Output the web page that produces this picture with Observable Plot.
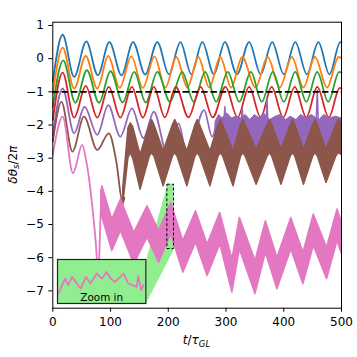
<!DOCTYPE html>
<html><head><meta charset="utf-8">
<script src="https://cdn.jsdelivr.net/npm/d3@7"></script>
<script src="https://cdn.jsdelivr.net/npm/@observablehq/plot@0.6"></script>
<style>
html,body{margin:0;padding:0;background:#fff;}
#wrap{position:relative;width:357px;height:357px;overflow:hidden;}
#inset{position:absolute;left:57.3px;top:259.3px;line-height:0;}
svg{display:block;}
</style></head><body><div id="wrap"><div id="inset"></div></div>
<script>
// ---- tick labels ----
const xTicks = [0, 100, 200, 300, 400, 500];
const yTicks = [-7, -6, -5, -4, -3, -2, -1, 0, 1];

// ---- smooth series: [t, value] ----
const blue = [[0,-0.7],[17,0.72],[37,-0.55],[58,0.52],[78,-0.5],[98,0.5],[119,-0.5],[139,0.5],[160,-0.48],[181,0.5],[201,-0.47],[221,0.5],[240,-0.47],[259,0.5],[279,-0.47],[298,0.5],[319,-0.47],[340,0.5],[360,-0.47],[380,0.5],[400,-0.47],[420,0.5],[440,-0.47],[460,0.5],[479,-0.47],[498,0.5],[500,0.49]];
const orange = [[0,-1.05],[17,0.33],[37,-0.9],[57,0.08],[77,-0.9],[96,0.08],[116,-0.88],[136,0.07],[156,-0.88],[176,0.06],[195,-0.87],[214,0.05],[233,-0.87],[252,0.05],[271,-0.87],[290,0.05],[309,-0.87],[328,0.05],[351,-0.87],[372,0.05],[393,-0.87],[414,0.05],[434,-0.87],[454,0.05],[475,-0.87],[495,0.05],[500,0.02]];
const green = [[0,-1.45],[18,-0.05],[39,-1.33],[59,-0.35],[80,-1.33],[100,-0.38],[121,-1.32],[141,-0.4],[161,-1.32],[181,-0.4],[203,-1.3],[224,-0.4],[244,-1.3],[264,-0.4],[283,-1.3],[303,-0.4],[323,-1.3],[343,-0.4],[362,-1.3],[381,-0.4],[400,-1.3],[420,-0.4],[439,-1.3],[458,-0.4],[477,-1.3],[496,-0.4],[500,-0.42]];
const red = [[0,-1.85],[17,-0.42],[37,-1.78],[57,-0.82],[77,-1.78],[97,-0.85],[117,-1.78],[137,-0.85],[156,-1.78],[175,-0.85],[194,-1.77],[213,-0.85],[235,-1.77],[256,-0.85],[277,-1.77],[299,-0.85],[320,-1.77],[340,-0.85],[360,-1.77],[379,-0.85],[399,-1.77],[419,-0.85],[439,-1.77],[458,-0.85],[478,-1.77],[497,-0.88],[500,-0.9]];
const purple = [[0,-2.3],[17,-0.9],[37,-2.25],[55,-1.45],[77,-2.3],[96,-1.4],[117,-2.35],[137,-1.5],[157,-2.4],[175,-1.6],[198,-2.85],[218,-1.95],[233,-3.0],[262,-1.55],[276,-2.35],[284,-1.9]];
const brown = [[0,-2.5],[15,-1.3],[34,-2.8],[54,-1.75],[77,-2.75],[97,-2.25],[110,-3.1],[121,-4.35],[124,-4.2]];
const pink = [[0,-2.9],[17,-1.75],[35,-3.45],[51,-2.6],[57,-3.0],[63,-3.65],[69,-4.55],[74,-5.45],[78,-6.3],[80,-6.1],[83,-4.6],[86,-4.0]];

// ---- noisy bands: [t, upper, lower] ----
const purpleBand = [[282,-1.9,-2.4],[288,-1.7,-2.5],[294,-1.8,-2.6],[302,-1.65,-2.6],[310,-1.8,-2.7],[318,-1.75,-2.7],[326,-1.8,-2.6],[334,-1.7,-2.6],[342,-1.85,-2.75],[350,-1.7,-2.75],[358,-1.8,-2.75],[366,-1.65,-2.7],[376,-1.85,-2.6],[386,-1.75,-2.65],[394,-1.7,-2.75],[404,-1.85,-2.75],[412,-1.75,-2.6],[422,-1.85,-2.7],[430,-1.7,-2.75],[440,-1.8,-2.75],[448,-1.7,-2.7],[462,-1.85,-2.65],[470,-1.7,-2.8],[480,-1.8,-2.8],[490,-1.75,-2.7],[500,-1.8,-2.6]];
const purpleSpikes = [[296,-2.0,"a"],[298,-1.45,"a"],[300,-2.0,"a"],[326,-2.0,"d"],[328,-1.5,"d"],[330,-2.0,"d"],[369,-2.2,"b"],[371,-1.2,"b"],[373,-2.2,"b"],[456,-2.0,"c"],[458,-0.95,"c"],[460,-2.0,"c"]];
const brownBand = [[122,-3.9,-4.4],[131,-2.1,-3.0],[135,-1.95,-2.85],[139,-2.05,-3.0],[152,-2.9,-3.95],[168,-2.0,-2.95],[172,-1.85,-2.85],[176,-2.0,-2.95],[192,-2.8,-3.85],[208,-2.0,-2.95],[212,-1.85,-2.85],[216,-2.0,-2.95],[233,-2.8,-3.85],[247,-2.0,-2.95],[251,-1.85,-2.85],[255,-2.0,-2.95],[273,-2.8,-3.85],[287,-2.0,-2.95],[291,-1.85,-2.85],[295,-2.0,-2.95],[313,-2.8,-3.85],[326,-2.0,-2.95],[330,-1.85,-2.85],[334,-2.0,-2.95],[353,-2.75,-3.8],[372,-2.0,-2.95],[376,-1.85,-2.85],[380,-2.0,-2.95],[396,-2.75,-3.8],[412,-2.0,-2.95],[416,-1.85,-2.85],[420,-2.0,-2.95],[435,-2.75,-3.8],[451,-2.0,-2.95],[455,-1.85,-2.85],[459,-2.0,-2.95],[474,-2.75,-3.75],[491,-2.0,-2.95],[495,-1.85,-2.85],[500,-1.95,-2.9]];
const pinkBand = [[84,-4.0,-4.7],[86,-3.85,-4.8],[103,-4.85,-5.8],[118,-4.25,-5.2],[141,-5.25,-6.2],[164,-4.45,-5.4],[184,-5.2,-6.15],[205,-4.35,-5.3],[226,-5.5,-6.45],[248,-4.6,-5.55],[268,-5.6,-6.55],[290,-4.65,-5.6],[311,-6.05,-7.05],[324,-4.8,-5.75],[351,-6.1,-7.1],[369,-4.9,-5.85],[389,-6.0,-6.95],[413,-4.8,-5.75],[434,-5.85,-6.8],[452,-4.7,-5.65],[475,-5.7,-6.65],[493,-4.55,-5.5],[500,-4.9,-5.85]];

// ---- reference level, zoom window, connector ----
const refLevel = [-1];
const zoomBox = [{t1:198.4, t2:209.9, y1:-5.74, y2:-3.8}];
const wedge = [[162,-6.05],[198.4,-3.8],[209.9,-5.74],[162,-7.36]];
// inset (zoomed) trace
const insetLine = [[198.5,-5.30],[199.4,-4.64],[199.8,-4.93],[200.3,-4.57],[201.4,-5.08],[202.1,-4.57],[202.7,-4.86],[203.5,-4.42],[204.2,-4.64],[204.8,-4.35],[205.3,-4.64],[205.9,-4.79],[207.0,-4.42],[207.6,-4.86],[208.7,-5.01],[208.9,-4.54],[209.3,-5.15],[209.6,-4.93]];

const C = {blue:"#1f77b4", orange:"#ff7f0e", green:"#2ca02c", red:"#d62728", purple:"#9467bd", brown:"#8c564b", pink:"#e377c2"};
const LG = "#90ee90";
const fmt = d => d < 0 ? "\u2212" + (-d) : String(d);
const X = d => d[0], Y = d => d[1];
const lw = 1.8;

const chart = Plot.plot({
  width: 357, height: 357,
  marginLeft: 52.3, marginRight: 16, marginTop: 21.7, marginBottom: 49.3,
  style: {fontFamily: "DejaVu Sans", fontSize: "12px", color: "black", background: "white"},
  x: {domain: [0, 500], ticks: xTicks, tickFormat: fmt, tickSize: 4, tickPadding: 5, label: null},
  y: {domain: [-7.523, 1.099], ticks: yTicks, tickFormat: fmt, tickSize: 4, tickPadding: 5, label: null},
  marks: [
    Plot.line(wedge, {x: X, y: Y, fill: LG, stroke: "none"}),
    Plot.rect(zoomBox, {x1: "t1", x2: "t2", y1: "y1", y2: "y2", fill: LG}),
    Plot.line(blue, {x: X, y: Y, stroke: C.blue, strokeWidth: lw, curve: "monotone-x"}),
    Plot.line(orange, {x: X, y: Y, stroke: C.orange, strokeWidth: lw, curve: "monotone-x"}),
    Plot.line(green, {x: X, y: Y, stroke: C.green, strokeWidth: lw, curve: "monotone-x"}),
    Plot.line(red, {x: X, y: Y, stroke: C.red, strokeWidth: lw, curve: "monotone-x"}),
    Plot.line(purple, {x: X, y: Y, stroke: C.purple, strokeWidth: lw, curve: "monotone-x"}),
    Plot.areaY(purpleBand, {x: X, y1: d => d[1], y2: d => d[2], fill: C.purple, stroke: C.purple, strokeWidth: 1}),
    Plot.line(purpleSpikes, {x: X, y: Y, z: d => d[2], stroke: C.purple, strokeWidth: 1.5}),
    Plot.line(brown, {x: X, y: Y, stroke: C.brown, strokeWidth: lw, curve: "monotone-x"}),
    Plot.areaY(brownBand, {x: X, y1: d => d[1], y2: d => d[2], fill: C.brown, stroke: C.brown, strokeWidth: 1.5}),
    Plot.line(pink, {x: X, y: Y, stroke: C.pink, strokeWidth: lw, curve: "monotone-x"}),
    Plot.areaY(pinkBand, {x: X, y1: d => d[1], y2: d => d[2], fill: C.pink, stroke: C.pink, strokeWidth: 1.5}),
    Plot.rect(zoomBox, {x1: "t1", x2: "t2", y1: "y1", y2: "y2", fill: "none", stroke: "black", strokeWidth: 1, strokeDasharray: "3,2"}),
    Plot.ruleY(refLevel, {stroke: "black", strokeWidth: 1.8, strokeDasharray: "6.5,2.8"}),
    Plot.frame({stroke: "black", strokeWidth: 1})
  ]
});
document.getElementById("wrap").prepend(chart);

// axis labels (math-style)
const svg = d3.select(chart);
const xl = svg.append("text").attr("x", 196.5).attr("y", 344).attr("text-anchor", "middle")
  .attr("font-family", "DejaVu Sans").attr("font-size", 12).attr("fill", "black");
xl.append("tspan").attr("font-style", "italic").text("t");
xl.append("tspan").text("/");
xl.append("tspan").attr("font-style", "italic").text("\u03c4");
xl.append("tspan").attr("font-style", "italic").attr("font-size", 8.5).attr("dy", 2.5).text("GL");

const yl = svg.append("text").attr("transform", "translate(16.5,164.7) rotate(-90)").attr("text-anchor", "middle")
  .attr("font-family", "DejaVu Sans").attr("font-size", 12).attr("fill", "black");
yl.append("tspan").attr("font-style", "italic").text("\u03b4\u03b8");
yl.append("tspan").attr("font-style", "italic").attr("font-size", 8.5).attr("dy", 2.5).text("s");
yl.append("tspan").attr("dy", -2.5).text("/2");
yl.append("tspan").attr("font-style", "italic").text("\u03c0");

// inset axes
const inset = Plot.plot({
  width: 88.4, height: 44, margin: 0,
  style: {fontFamily: "DejaVu Sans", background: LG, overflow: "visible"},
  x: {domain: [198.4, 209.9], axis: null},
  y: {domain: [-5.74, -3.8], axis: null},
  marks: [
    Plot.line(insetLine, {x: X, y: Y, stroke: C.pink, strokeWidth: 1.8}),
    Plot.text(["Zoom in"], {frameAnchor: "bottom", dy: -2.5, fontSize: 10.4, fill: "black"}),
    Plot.frame({stroke: "#222", strokeWidth: 1.2})
  ]
});
document.getElementById("inset").appendChild(inset);
</script>
</body></html>
